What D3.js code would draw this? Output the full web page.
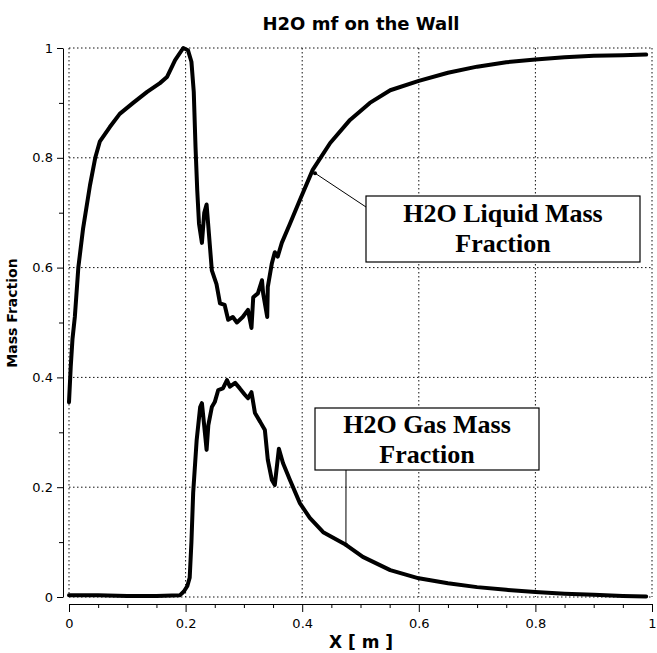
<!DOCTYPE html>
<html>
<head>
<meta charset="utf-8">
<script src="https://cdn.jsdelivr.net/npm/d3@7"></script>
<style>
  html, body { margin: 0; padding: 0; background: #fff; }
  svg { display: block; }
</style>
</head>
<body>
<svg id="chart" width="657" height="653"></svg>
<script>
// ---- data ----
const liquidX = [0, .003, .006, .010, .016, .024, .036, .045, .053, .070, .087, .11, .134, .156, .168, .182, .196, .204, .210, .214, .217, .220, .223, .228, .232, .236, .239, .245, .253, .259, .267, .273, .281, .288, .298, .307, .313, .316, .324, .331, .333, .340, .341, .348, .353, .358, .365, .379, .396, .418, .448, .482, .516, .551, .6, .65, .7, .75, .8, .85, .9, .95, .99];
const liquidY = [.355, .42, .47, .51, .60, .67, .75, .80, .83, .856, .88, .90, .92, .936, .947, .978, 1.0, .996, .975, .92, .82, .74, .68, .645, .70, .715, .675, .595, .57, .535, .532, .505, .51, .50, .51, .523, .49, .546, .553, .577, .553, .51, .565, .608, .628, .62, .645, .68, .723, .778, .827, .869, .90, .923, .94, .955, .966, .974, .979, .983, .986, .987, .988];
const gasX = [0, .05, .1, .15, .19, .197, .203, .207, .210, .213, .219, .225, .228, .234, .236, .239, .245, .250, .256, .264, .271, .276, .285, .293, .302, .307, .313, .319, .328, .336, .341, .348, .353, .36, .367, .379, .396, .413, .436, .475, .504, .551, .6, .65, .7, .75, .8, .85, .9, .95, .99];
const gasY = [.003, .003, .002, .002, .003, .01, .02, .035, .10, .19, .286, .346, .353, .29, .268, .313, .346, .355, .377, .38, .395, .383, .39, .38, .368, .362, .373, .335, .319, .304, .25, .213, .204, .27, .244, .213, .171, .144, .118, .095, .073, .049, .034, .025, .018, .013, .009, .006, .004, .002, .001];
const majorTicks = [0, 0.2, 0.4, 0.6, 0.8, 1];
const tickLabels = ["0", "0.2", "0.4", "0.6", "0.8", "1"];
const xMinorTicks = [0.05, 0.1, 0.15, 0.25, 0.3, 0.35, 0.45, 0.5, 0.55, 0.65, 0.7, 0.75, 0.85, 0.9, 0.95];
const yMinorTicks = [0.1, 0.3, 0.5, 0.7, 0.9];
const titleText = "H2O mf on the Wall";
const xTitle = "X [ m ]";
const yTitle = "Mass Fraction";
const liquidLabel = ["H2O Liquid Mass", "Fraction"];
const gasLabel = ["H2O Gas Mass", "Fraction"];
const liquidAnchor = [0.422, 0.772];
const gasAnchor = [0.475, 0.095];

// ---- layout ----
const svg = d3.select("#chart");
const x = d3.scaleLinear().domain([0, 1]).range([69, 652]);
const y = d3.scaleLinear().domain([0, 1]).range([597, 48]);
const sans = "'DejaVu Sans', Verdana, sans-serif";
const serif = "'Liberation Serif', 'Times New Roman', serif";

// grid
const grid = svg.append("g").attr("stroke", "#111").attr("stroke-width", 1)
  .attr("stroke-dasharray", "1.5,2.5").attr("fill", "none");
majorTicks.forEach(v => {
  grid.append("line").attr("x1", x(v)).attr("x2", x(v)).attr("y1", y(1)).attr("y2", y(0));
  grid.append("line").attr("x1", x(0)).attr("x2", x(1)).attr("y1", y(v)).attr("y2", y(v));
});

// y axis
const yAxisX = 63;
const yAxis = d3.axisLeft(y).tickValues(majorTicks).tickSize(6).tickSizeOuter(0).tickPadding(4)
  .tickFormat((d, i) => tickLabels[i]);
const gy = svg.append("g").attr("transform", `translate(${yAxisX},0)`).call(yAxis);
gy.selectAll("text").attr("font-family", sans).attr("font-size", 13).attr("fill", "#000");
gy.selectAll("line, path").attr("stroke", "#000");
const gyMinor = svg.append("g").attr("transform", `translate(${yAxisX},0)`)
  .call(d3.axisLeft(y).tickValues(yMinorTicks).tickSize(4).tickSizeOuter(0).tickFormat(""));
gyMinor.select("path").remove();
gyMinor.selectAll("line").attr("stroke", "#000");

// x axis
const xAxisY = 604;
const xAxis = d3.axisBottom(x).tickValues(majorTicks).tickSize(8).tickSizeOuter(0).tickPadding(7)
  .tickFormat((d, i) => tickLabels[i]);
const gx = svg.append("g").attr("transform", `translate(0,${xAxisY})`).call(xAxis);
gx.selectAll("text").attr("font-family", sans).attr("font-size", 13).attr("fill", "#000");
gx.selectAll("line, path").attr("stroke", "#000");
const gxMinor = svg.append("g").attr("transform", `translate(0,${xAxisY})`)
  .call(d3.axisBottom(x).tickValues(xMinorTicks).tickSize(4).tickSizeOuter(0).tickFormat(""));
gxMinor.select("path").remove();
gxMinor.selectAll("line").attr("stroke", "#000");

// titles
svg.append("text").attr("x", 361).attr("y", 30).attr("text-anchor", "middle")
  .attr("font-family", sans).attr("font-weight", "bold").attr("font-size", 18).text(titleText);
svg.append("text").attr("x", 361).attr("y", 648).attr("text-anchor", "middle")
  .attr("font-family", sans).attr("font-weight", "bold").attr("font-size", 17).text(xTitle);
svg.append("text").attr("transform", "translate(17,313) rotate(-90)").attr("text-anchor", "middle")
  .attr("font-family", sans).attr("font-weight", "bold").attr("font-size", 14).text(yTitle);

// lines
const line = d3.line().x(d => x(d[0])).y(d => y(d[1])).curve(d3.curveLinear);
const liquid = liquidX.map((v, i) => [v, liquidY[i]]);
const gas = gasX.map((v, i) => [v, gasY[i]]);
[liquid, gas].forEach(data => {
  svg.append("path").datum(data).attr("d", line).attr("fill", "none")
    .attr("stroke", "#000").attr("stroke-width", 4).attr("stroke-linejoin", "round").attr("stroke-linecap", "round");
});

// annotations
function annotate(box, lines, cx, b1, b2, leader, anchor) {
  svg.append("line").attr("x1", leader[0]).attr("y1", leader[1])
    .attr("x2", x(anchor[0])).attr("y2", y(anchor[1])).attr("stroke", "#000").attr("stroke-width", 1);
  svg.append("circle").attr("cx", x(anchor[0])).attr("cy", y(anchor[1])).attr("r", 2).attr("fill", "#000");
  svg.append("rect").attr("x", box[0]).attr("y", box[1]).attr("width", box[2]).attr("height", box[3])
    .attr("fill", "#fff").attr("stroke", "#000").attr("stroke-width", 1.2);
  svg.append("text").attr("x", cx).attr("y", b1).attr("text-anchor", "middle")
    .attr("font-family", serif).attr("font-weight", "bold").attr("font-size", 26).text(lines[0]);
  svg.append("text").attr("x", cx).attr("y", b2).attr("text-anchor", "middle")
    .attr("font-family", serif).attr("font-weight", "bold").attr("font-size", 26).text(lines[1]);
}
annotate([366, 196, 274, 66], liquidLabel, 503, 222, 252, [366, 207], liquidAnchor);
annotate([315, 408, 224, 62], gasLabel, 427, 433, 463, [346, 470], gasAnchor);
</script>
</body>
</html>
